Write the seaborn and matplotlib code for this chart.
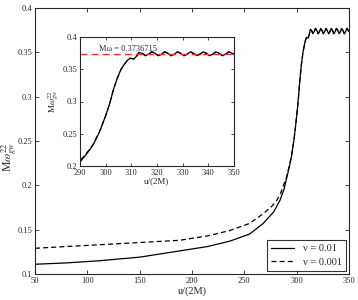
import numpy as np
import pandas as pd
import matplotlib
matplotlib.use("Agg")
import matplotlib.pyplot as plt
import seaborn as sns

# u/(2M) and M*omega_gw^22
u_inspiral_a = [50, 80, 112, 150, 188, 215, 236, 255, 268, 278, 284, 288, 290, 293, 295]
w_inspiral_a = [0.111, 0.1125, 0.115, 0.119, 0.126, 0.131, 0.137, 0.145, 0.157, 0.170, 0.183, 0.196, 0.206, 0.221, 0.232]
u_inspiral_b = [50, 80, 112, 150, 188, 215, 236, 255, 268, 276, 281, 285, 287, 290, 293, 295]
w_inspiral_b = [0.129, 0.131, 0.133, 0.1355, 0.138, 0.143, 0.149, 0.157, 0.168, 0.176, 0.183, 0.192, 0.199, 0.208, 0.222, 0.233]

# merger + ringdown (shared by both runs)
u_merger = [297.5, 300, 301.5, 303, 304.5, 306, 307.5, 308.5, 309.5, 311, 312, 313,
            314.3, 315.5, 316.8, 318, 319.3, 320.5, 321.8, 323, 324.3, 325.5, 326.8, 328,
            329.3, 330.5, 331.8, 333, 334.3, 335.5, 336.8, 338, 339.3, 340.5, 341.8, 343,
            344.3, 345.5, 346.8, 348, 349.3, 350]
w_merger = [0.252, 0.278, 0.296, 0.318, 0.336, 0.35, 0.359, 0.364, 0.367, 0.366, 0.370, 0.376,
            0.3745, 0.371, 0.3735, 0.377, 0.3745, 0.371, 0.3735, 0.377, 0.3745, 0.371, 0.3735, 0.377,
            0.3745, 0.371, 0.3735, 0.377, 0.3745, 0.371, 0.3735, 0.377, 0.3745, 0.371, 0.3735, 0.377,
            0.3745, 0.371, 0.3735, 0.377, 0.3745, 0.3735]

labels = ["ν = 0.01", "ν = 0.001"]
w_final = 0.3736715

df = pd.concat([
    pd.DataFrame({"u": u_inspiral_a + u_merger, "w": w_inspiral_a + w_merger, "run": labels[0]}),
    pd.DataFrame({"u": u_inspiral_b + u_merger, "w": w_inspiral_b + w_merger, "run": labels[1]}),
])

sns.set_style("ticks")
plt.rcParams["font.family"] = ["Liberation Serif", "DejaVu Serif"]
plt.rcParams["mathtext.fontset"] = "stix"

fig = plt.figure(figsize=(3.58, 3.0), dpi=100)
ax = fig.add_axes([35 / 358, 26 / 300, 314 / 358, 266 / 300])

sns.lineplot(data=df, x="u", y="w", style="run", color="black", linewidth=0.9,
             dashes=[(None, None), (4, 2.5)], ax=ax, sort=False)
ax.set_xlim(50, 350)
ax.set_ylim(0.1, 0.4)
ax.set_xticks(np.arange(50, 351, 50))
ax.set_yticks([0.1, 0.15, 0.2, 0.25, 0.3, 0.35, 0.4])
ax.set_yticklabels(["0.1", "0.15", "0.2", "0.25", "0.3", "0.35", "0.4"])
ax.tick_params(direction="in", top=True, right=True, labelsize=6, length=3, width=0.6, pad=2)
for s in ax.spines.values():
    s.set_linewidth(0.8)
ax.set_xlabel("u/(2M)", fontsize=7.5, labelpad=1)
ax.set_ylabel(r"M$\omega^{22}_{gw}$", fontsize=8.5)
ax.yaxis.set_label_coords(-0.084, 0.44)
ax.yaxis.label.set_verticalalignment("center")

leg = ax.legend(loc="lower right", fontsize=7.5, frameon=True, fancybox=False,
                edgecolor="black", handlelength=2.2, borderpad=0.4, labelspacing=0.4,
                borderaxespad=0.3)
leg.get_frame().set_linewidth(0.8)

# inset
ins = fig.add_axes([80 / 358, 134 / 300, 154 / 358, 129 / 300])
sns.lineplot(data=df, x="u", y="w", style="run", color="black", linewidth=0.9,
             dashes=[(None, None), (4, 2.5)], ax=ins, sort=False, legend=False)
ins.axhline(w_final, color="#ff3030", linestyle=(0, (5, 3)), linewidth=1.0)
ins.text(297.3, w_final + 0.0015, "Mω = 0.3736715", fontsize=6, va="bottom")
ins.set_xlim(290, 350)
ins.set_ylim(0.2, 0.4)
ins.set_xticks(np.arange(290, 351, 10))
ins.set_yticks([0.2, 0.25, 0.3, 0.35, 0.4])
ins.set_yticklabels(["0.2", "0.25", "0.3", "0.35", "0.4"])
ins.tick_params(direction="in", top=True, right=True, labelsize=6, length=2.5, width=0.6, pad=2)
for s in ins.spines.values():
    s.set_linewidth(0.8)
ins.set_xlabel("u/(2M)", fontsize=6.5, labelpad=0)
ins.set_ylabel(r"M$\omega^{22}_{gw}$", fontsize=6.5, labelpad=1)

fig.savefig("out.png", dpi=100)
